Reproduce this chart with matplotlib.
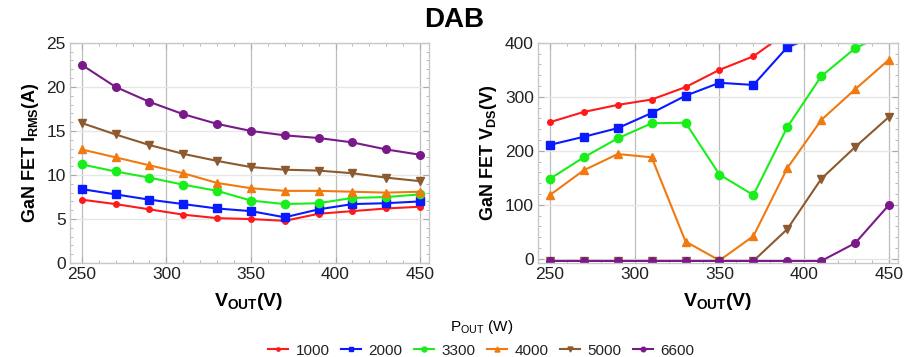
import matplotlib
matplotlib.use("Agg")
import matplotlib.pyplot as plt
from matplotlib.ticker import MultipleLocator

plt.rcParams['font.family'] = ['Liberation Sans', 'DejaVu Sans']
plt.rcParams['mathtext.fontset'] = 'custom'
plt.rcParams['mathtext.rm'] = 'Liberation Sans'
plt.rcParams['mathtext.bf'] = 'Liberation Sans:bold'

vout = [250, 270, 290, 310, 330, 350, 370, 390, 410, 430, 450]
powers = ["1000", "2000", "3300", "4000", "5000", "6600"]
colors = ["#ff1a1a", "#0a1aff", "#1aee1a", "#f07a10", "#8c5a2e", "#7a1a8a"]
markers = ["o", "s", "o", "^", "v", "o"]
msizes = [4, 5.5, 6, 6, 6, 5.5]

irms_1000 = [7.2, 6.7, 6.1, 5.5, 5.1, 5.0, 4.8, 5.6, 5.9, 6.2, 6.4]
irms_2000 = [8.4, 7.8, 7.2, 6.7, 6.2, 5.9, 5.2, 6.1, 6.7, 6.8, 7.0]
irms_3300 = [11.2, 10.4, 9.7, 8.9, 8.2, 7.1, 6.7, 6.8, 7.4, 7.5, 7.8]
irms_4000 = [12.9, 12.0, 11.1, 10.2, 9.1, 8.5, 8.2, 8.2, 8.1, 8.0, 8.1]
irms_5000 = [15.9, 14.6, 13.4, 12.4, 11.6, 10.9, 10.6, 10.5, 10.2, 9.7, 9.3]
irms_6600 = [22.5, 20.0, 18.3, 16.9, 15.8, 15.0, 14.5, 14.2, 13.7, 12.9, 12.3]

vds_1000 = [253, 272, 285, 295, 318, 350, 375, 420, 460, 500, 540]
vds_2000 = [211, 226, 242, 270, 302, 326, 322, 392, 416, 450, 490]
vds_3300 = [148, 188, 223, 251, 252, 156, 118, 244, 338, 390, 420]
vds_4000 = [118, 164, 194, 188, 32, -3, 42, 168, 257, 314, 369]
vds_5000 = [-4, -4, -4, -4, -4, -4, -4, 55, 148, 207, 263]
vds_6600 = [-4, -4, -4, -4, -4, -4, -4, -4, -4, 29, 100]

irms = [irms_1000, irms_2000, irms_3300, irms_4000, irms_5000, irms_6600]
vds = [vds_1000, vds_2000, vds_3300, vds_4000, vds_5000, vds_6600]

fig = plt.figure(figsize=(9.08, 3.57), dpi=100)
ax1 = fig.add_axes([0.077, 0.263, 0.395, 0.617])
ax2 = fig.add_axes([0.5925, 0.263, 0.396, 0.617])

frame_c = "#c8c8c8"
for ax in (ax1, ax2):
    for s in ax.spines.values():
        s.set_color(frame_c)
        s.set_linewidth(1.0)
    ax.tick_params(which='both', direction='in', color="#aaaaaa", top=True, right=True,
                   labelsize=12.5, labelcolor="#222222", pad=3)
    ax.tick_params(which='major', length=4)
    ax.tick_params(which='minor', length=2)
    ax.xaxis.set_major_locator(MultipleLocator(50))
    ax.xaxis.set_minor_locator(MultipleLocator(10))
    ax.set_xlim(243, 455)
    ax.set_xticks([250, 300, 350, 400, 450])
    ax.grid(True, which='major', axis='x', color="#bdbdbd", lw=0.9)
    ax.grid(True, which='major', axis='y', color="#e6e6e6", lw=1.0)
    ax.set_axisbelow(True)
    ax.set_xlabel(r"$\mathbf{V_{OUT}}$(V)", fontsize=14, fontweight='bold', labelpad=6)

ax1.set_ylim(0, 25)
ax1.yaxis.set_major_locator(MultipleLocator(5))
ax1.yaxis.set_minor_locator(MultipleLocator(1))
ax1.set_ylabel(r"GaN FET I$_{\mathbf{RMS}}$(A)", fontsize=13, fontweight='bold', labelpad=4)

ax2.set_ylim(-8, 400)
ax2.yaxis.set_major_locator(MultipleLocator(100))
ax2.yaxis.set_minor_locator(MultipleLocator(20))
ax2.set_ylabel(r"GaN FET V$_{\mathbf{DS}}$(V)", fontsize=13, fontweight='bold', labelpad=4)

handles = []
for i in range(6):
    h, = ax1.plot(vout, irms[i], color=colors[i], marker=markers[i], ms=msizes[i], lw=1.5,
                  label=powers[i], clip_on=True)
    ax2.plot(vout, vds[i], color=colors[i], marker=markers[i], ms=msizes[i], lw=1.5, clip_on=True)
    handles.append(h)

fig.text(0.5, 0.945, "DAB", ha='center', va='center', fontsize=20, fontweight='bold')

leg = fig.legend(handles=handles, labels=powers, loc='lower center', ncol=6,
                 bbox_to_anchor=(0.53, -0.04), frameon=False, fontsize=11,
                 title=r"P$_{\mathrm{OUT}}$ (W)", title_fontsize=11,
                 handlelength=1.3, columnspacing=0.75, handletextpad=0.5, markerscale=0.6)
for t in leg.get_texts():
    t.set_color("#222222")

fig.savefig("out.png", dpi=100)
